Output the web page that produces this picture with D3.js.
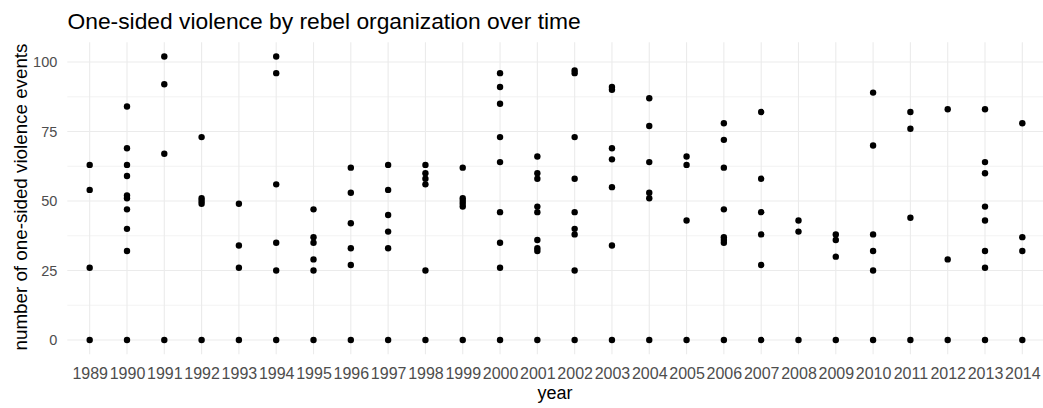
<!DOCTYPE html>
<html>
<head>
<meta charset="utf-8">
<script src="https://cdn.jsdelivr.net/npm/d3@7"></script>
<style>
  html, body { margin: 0; padding: 0; background: #fff; }
  svg { display: block; font-family: "Liberation Sans", Arial, sans-serif; }
</style>
</head>
<body>
<svg id="chart" width="1043" height="408"></svg>
<script>
const years = [1989,1990,1991,1992,1993,1994,1995,1996,1997,1998,1999,2000,2001,
               2002,2003,2004,2005,2006,2007,2008,2009,2010,2011,2012,2013,2014];
// one list of event counts per year (one value per rebel organization shown)
const eventsByYear = [
  [63, 54, 26, 0],
  [84, 69, 63, 59, 52, 51, 47, 40, 32, 0],
  [102, 92, 67, 0],
  [73, 51, 50, 49, 0],
  [49, 34, 26, 0],
  [102, 96, 56, 35, 25, 0],
  [47, 37, 35, 29, 25, 0],
  [62, 53, 42, 33, 27, 0],
  [63, 54, 45, 39, 33, 0],
  [63, 60, 58, 56, 25, 0],
  [62, 51, 50, 49, 48, 0],
  [96, 91, 85, 73, 64, 46, 35, 26, 0],
  [66, 60, 58, 48, 46, 36, 33, 32, 0],
  [97, 96, 73, 58, 46, 40, 38, 25, 0],
  [91, 90, 69, 65, 55, 34, 0],
  [87, 77, 64, 53, 51, 0],
  [66, 63, 43, 0],
  [78, 72, 62, 47, 37, 36, 35, 0],
  [82, 58, 46, 38, 27, 0],
  [43, 39, 0],
  [38, 36, 30, 0],
  [89, 70, 38, 32, 25, 0],
  [82, 76, 44, 0],
  [83, 29, 0],
  [83, 64, 60, 48, 43, 32, 26, 0],
  [78, 37, 32, 0]
];
const yMajorTicks = [0, 25, 50, 75, 100];
const yMinorTicks = [12.5, 37.5, 62.5, 87.5];
const titleText = "One-sided violence by rebel organization over time";
const xTitle = "year";
const yTitle = "number of one-sided violence events";

const points = [];
years.forEach((yr, i) => eventsByYear[i].forEach(v => points.push({year: yr, value: v})));

const svg = d3.select("#chart");
const panel = {left: 67.3, right: 1044.7, top: 42.3, bottom: 354.2};

const x = d3.scalePoint().domain(years).range([panel.left, panel.right]).padding(0.6);
const yMax = d3.max(points, d => d.value), yMin = 0;
const pad = (yMax - yMin) * 0.05;
const y = d3.scaleLinear().domain([yMin - pad, yMax + pad]).range([panel.bottom, panel.top]);

const grid = svg.append("g");
grid.selectAll("line.minor").data(yMinorTicks).join("line")
  .attr("x1", panel.left).attr("x2", panel.right)
  .attr("y1", d => y(d)).attr("y2", d => y(d))
  .attr("stroke", "#ebebeb").attr("stroke-width", 0.6);
grid.selectAll("line.majy").data(yMajorTicks).join("line")
  .attr("x1", panel.left).attr("x2", panel.right)
  .attr("y1", d => y(d)).attr("y2", d => y(d))
  .attr("stroke", "#ebebeb").attr("stroke-width", 1.1);
grid.selectAll("line.majx").data(years).join("line")
  .attr("y1", panel.top).attr("y2", panel.bottom)
  .attr("x1", d => x(d)).attr("x2", d => x(d))
  .attr("stroke", "#ebebeb").attr("stroke-width", 1.1);

// axes (ticks hidden, labels only)
const xAxis = svg.append("g").attr("transform", `translate(0,${panel.bottom})`)
  .call(d3.axisBottom(x).tickSize(0).tickPadding(5));
const yAxis = svg.append("g").attr("transform", `translate(${panel.left},0)`)
  .call(d3.axisLeft(y).tickValues(yMajorTicks).tickSize(0).tickPadding(10));
[xAxis, yAxis].forEach(a => {
  a.select(".domain").remove();
  a.selectAll("text").attr("fill", "#4d4d4d")
    .style("font-family", "'Liberation Sans', Arial, sans-serif");
});
yAxis.selectAll("text").style("font-size", "14.5px");
xAxis.selectAll("text").style("font-size", "16px").attr("dy", "0.71em").attr("y", 13.5);

svg.append("g").selectAll("circle").data(points).join("circle")
  .attr("cx", d => x(d.year)).attr("cy", d => y(d.value))
  .attr("r", 3.2).attr("fill", "#000");

svg.append("text").attr("x", 67.5).attr("y", 29)
  .style("font-size", "22.8px").attr("fill", "#000").text(titleText);
svg.append("text").attr("x", 555).attr("y", 399)
  .attr("text-anchor", "middle").style("font-size", "18px").attr("fill", "#000").text(xTitle);
svg.append("text")
  .attr("transform", `translate(27,197) rotate(-90)`)
  .attr("text-anchor", "middle").style("font-size", "18.8px").attr("fill", "#000").text(yTitle);
</script>
</body>
</html>
